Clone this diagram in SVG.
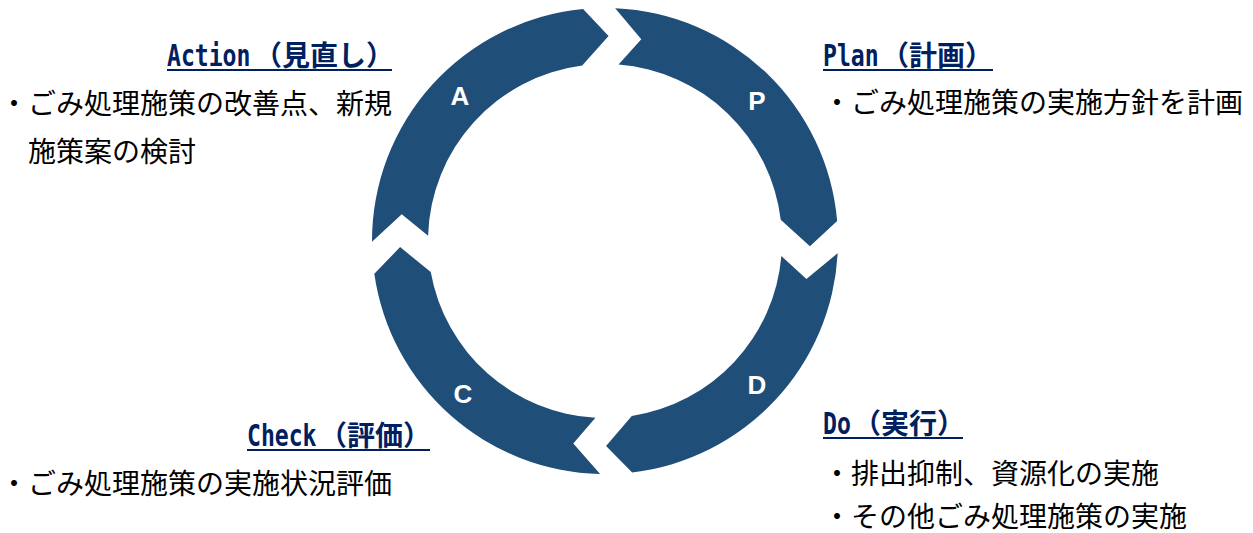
<svg xmlns="http://www.w3.org/2000/svg" width="1253" height="533" viewBox="0 0 1253 533">
<style>
.seg{fill:#1F4E79;}
.ltr{font-family:"Liberation Sans",Arial,sans-serif;font-weight:bold;font-size:26px;fill:#FFFFFF;text-anchor:middle;}
.hl{font-family:"DejaVu Sans Mono","Liberation Mono",monospace;font-size:30px;font-weight:bold;fill:#002060;}
.hj{font-family:"Noto Sans CJK JP","Noto Sans",sans-serif;font-size:28px;font-weight:bold;fill:#002060;}
.ul{stroke:#002060;stroke-width:2;fill:none;}
.bd{font-family:"Noto Sans CJK JP","Noto Sans",sans-serif;font-size:28px;fill:#000000;}
</style>
<rect width="1253" height="533" fill="#FFFFFF"/>
<g id="cycle">
<g id="node-P">
<path class="seg" d="M615.16,8.22 A233,233 0 0 1 837.15,221.10 L809.93,246.37 L780.72,219.73 A177,177 0 0 0 618.58,64.52 L641.30,39.24 Z"/>
<text class="ltr" x="757" y="110">P</text>
</g>
<g id="node-D">
<path class="seg" d="M837.68,253.19 A233,233 0 0 1 632.18,472.41 L606.07,446.0 L631.77,415.96 A177,177 0 0 0 781.35,256.12 L806.43,279.06 Z"/>
<text class="ltr" x="757" y="394">D</text>
</g>
<g id="node-C">
<path class="seg" d="M600.12,473.95 A233,233 0 0 1 374.33,273.83 L400.09,247.08 L430.74,272.04 A177,177 0 0 0 595.43,417.74 L573.28,443.53 Z"/>
<text class="ltr" x="463" y="403">C</text>
</g>
<g id="node-A">
<path class="seg" d="M372.0,241.81 A233,233 0 0 1 583.07,9.03 L608.58,36.03 L582.20,65.47 A177,177 0 0 0 428.08,235.75 L401.75,214.24 Z"/>
<text class="ltr" x="460" y="105">A</text>
</g>
</g>
<g id="connectors"></g>
<g id="label-action">
<text class="hl" transform="translate(167,66) scale(0.77,1)" x="0" y="0">Action</text>
<text class="hj" x="254" y="66">（見直し）</text>
<line class="ul" x1="167" y1="70" x2="392" y2="70"/>
<text class="bd" x="0" y="114">・ごみ処理施策の改善点、新規</text>
<text class="bd" x="28" y="162">施策案の検討</text>
</g>
<g id="label-plan">
<text class="hl" transform="translate(823,66) scale(0.77,1)" x="0" y="0">Plan</text>
<text class="hj" x="881" y="66">（計画）</text>
<line class="ul" x1="823" y1="70" x2="993" y2="70"/>
<text class="bd" x="823" y="113">・ごみ処理施策の実施方針を計画</text>
</g>
<g id="label-check">
<text class="hl" transform="translate(247,446) scale(0.77,1)" x="0" y="0">Check</text>
<text class="hj" x="319" y="446">（評価）</text>
<line class="ul" x1="247" y1="450" x2="430" y2="450"/>
<text class="bd" x="0" y="494">・ごみ処理施策の実施状況評価</text>
</g>
<g id="label-do">
<text class="hl" transform="translate(823,434) scale(0.77,1)" x="0" y="0">Do</text>
<text class="hj" x="853" y="434">（実行）</text>
<line class="ul" x1="823" y1="438" x2="963" y2="438"/>
<text class="bd" x="823" y="484">・排出抑制、資源化の実施</text>
<text class="bd" x="823" y="527">・その他ごみ処理施策の実施</text>
</g>
</svg>
